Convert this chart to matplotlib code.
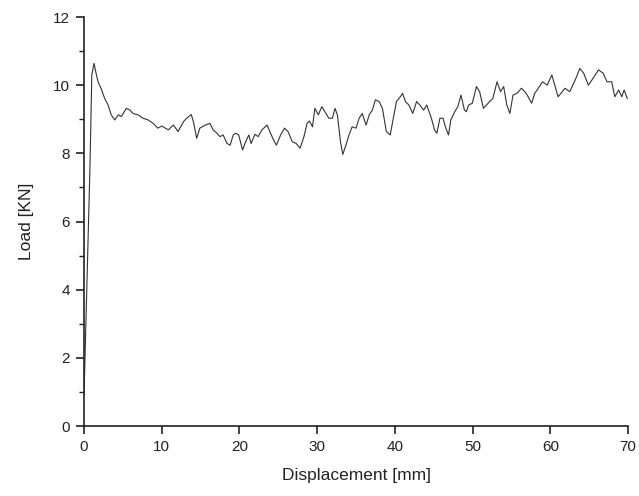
import matplotlib.pyplot as plt
from matplotlib.ticker import MultipleLocator

plt.rcParams['font.family'] = ['Liberation Sans', 'DejaVu Sans']

# Displacement [mm] and Load [KN]
displacement = [0.0, 0.3, 0.77, 1.0, 1.29, 1.5, 1.8, 2.2, 2.66, 3.09, 3.5, 3.95, 4.4, 4.8,
                5.45, 5.9, 6.3, 6.95, 7.6, 8.24, 8.9, 9.5, 10.0, 10.85, 11.5, 12.1,
                12.8, 13.2, 13.8, 14.07, 14.5, 14.9, 15.6, 16.2, 16.6, 17.1, 17.5,
                17.9, 18.4, 18.8, 19.2, 19.5, 19.9, 20.4, 20.8, 21.2, 21.5, 22.0,
                22.4, 22.9, 23.55, 24.0, 24.4, 24.75, 25.3, 25.8, 26.25, 26.8, 27.3,
                27.8, 28.3, 28.7, 29.0, 29.4, 29.7, 30.15, 30.6, 31.0, 31.5, 31.96,
                32.3, 32.6, 33.0, 33.3, 33.7, 34.1, 34.5, 35.0, 35.4, 35.8, 36.3,
                36.7, 37.1, 37.5, 37.97, 38.4, 38.9, 39.4, 39.8, 40.2, 40.7, 41.0,
                41.35, 41.8, 42.3, 42.8, 43.2, 43.7, 44.1, 44.7, 45.1, 45.4, 45.8,
                46.2, 46.5, 46.9, 47.2, 47.7, 48.1, 48.5, 48.95, 49.2, 49.5, 49.96,
                50.5, 50.9, 51.4, 52.0, 52.6, 53.15, 53.6, 54.0, 54.4, 54.8, 55.2,
                55.7, 56.3, 56.9, 57.6, 58.0, 58.6, 59.0, 59.6, 60.2, 61.0, 61.9,
                62.5, 63.2, 63.8, 64.3, 64.9, 65.5, 66.2, 66.8, 67.3, 67.9, 68.3,
                68.8, 69.2, 69.5, 69.9]
load = [0.9, 3.5, 7.66, 10.3, 10.64, 10.4, 10.1, 9.9, 9.61, 9.42, 9.13, 8.98, 9.13, 9.08,
        9.32, 9.27, 9.17, 9.13, 9.03, 8.98, 8.88, 8.74, 8.8, 8.69, 8.83, 8.64,
        8.93, 9.03, 9.14, 8.93, 8.44, 8.74, 8.83, 8.88, 8.69, 8.59, 8.49,
        8.54, 8.29, 8.24, 8.54, 8.59, 8.54, 8.1, 8.34, 8.54, 8.29, 8.56,
        8.49, 8.69, 8.83, 8.59, 8.39, 8.24, 8.54, 8.74, 8.64, 8.34, 8.29,
        8.15, 8.49, 8.88, 8.95, 8.78, 9.32, 9.13, 9.37, 9.22, 9.03, 9.03,
        9.32, 9.13, 8.34, 7.97, 8.24, 8.54, 8.78, 8.74, 9.03, 9.17, 8.83,
        9.13, 9.27, 9.57, 9.52, 9.32, 8.64, 8.54, 9.03, 9.52, 9.66, 9.76,
        9.52, 9.42, 9.17, 9.52, 9.42, 9.27, 9.42, 9.03, 8.69, 8.59, 9.03,
        9.03, 8.78, 8.54, 8.98, 9.22, 9.37, 9.71, 9.27, 9.22, 9.42, 9.47,
        9.96, 9.81, 9.32, 9.47, 9.61, 10.1, 9.81, 9.96, 9.42, 9.17, 9.71,
        9.76, 9.91, 9.76, 9.47, 9.76, 9.96, 10.1, 10.0, 10.3, 9.66, 9.91,
        9.81, 10.15, 10.49, 10.35, 10.0, 10.2, 10.45, 10.35, 10.1, 10.1, 9.66,
        9.86, 9.66, 9.86, 9.61]

fig = plt.figure(figsize=(6.39, 4.96), dpi=100)
ax = fig.add_axes([0.1315, 0.1411, 0.8513, 0.8246])

ax.plot(displacement, load, color='#333333', linewidth=0.8)

ax.set_xlim(0, 70)
ax.set_ylim(0, 12)
ax.xaxis.set_major_locator(MultipleLocator(10))
ax.yaxis.set_major_locator(MultipleLocator(2))
ax.yaxis.set_minor_locator(MultipleLocator(1))

for s in ['top', 'right']:
    ax.spines[s].set_visible(False)
for s in ['left', 'bottom']:
    ax.spines[s].set_linewidth(1.2)
    ax.spines[s].set_color('#222222')

ax.tick_params(which='major', length=6, width=1.2, labelsize=11, color='#222222',
               labelcolor='#222222', pad=4)
ax.tick_params(which='minor', length=3.5, width=1.0, color='#222222')

ax.set_xlabel('Displacement [mm]', fontsize=12.5, labelpad=10, color='#222222')
ax.set_ylabel('Load [KN]', fontsize=12.5, labelpad=14, color='#222222')

fig.savefig('out.png', dpi=100)
